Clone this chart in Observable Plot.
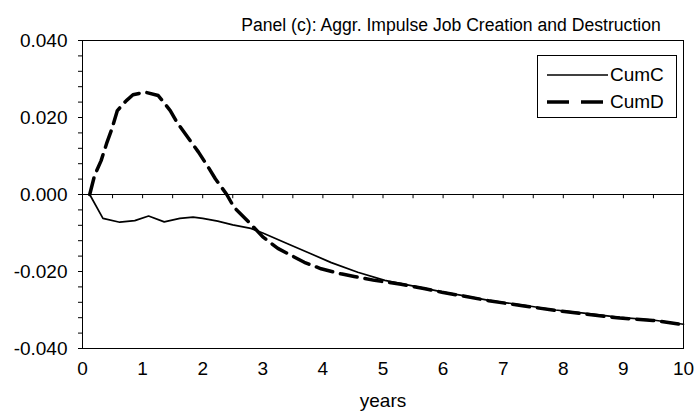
<!DOCTYPE html>
<html>
<head>
<meta charset="utf-8">
<script src="https://cdn.jsdelivr.net/npm/d3@7"></script>
<script src="https://cdn.jsdelivr.net/npm/@observablehq/plot@0.6"></script>
<style>
  html, body { margin: 0; padding: 0; background: #fff; }
  #wrap { position: relative; width: 696px; height: 416px; font-family: "Liberation Sans", Arial, sans-serif; }
  #legend { position: absolute; left: 537px; top: 55px; width: 140px; height: 63px; border: 1px solid #000; background: #fff; box-sizing: border-box; }
  #legend .row { position: absolute; left: 9px; display: flex; align-items: center; font-size: 19px; color: #000; }
  #legend svg { margin-right: 2px; }
</style>
</head>
<body>
<div id="wrap"></div>
<script>
// ---- data (years, value) ----
const seriesNames = ["CumC", "CumD"];
const cumC_t = [0.12, 0.34, 0.62, 0.87, 1.10, 1.36, 1.62, 1.84, 2.00, 2.25, 2.50, 2.80, 3.00, 3.47, 3.80, 4.14, 4.58, 5.03, 5.70, 5.98, 6.31, 6.76, 7.32, 7.87, 8.38, 8.94, 9.49, 10.0];
const cumC_v = [0.0, -0.0062, -0.0072, -0.0068, -0.0056, -0.0071, -0.0062, -0.0059, -0.0062, -0.0069, -0.0079, -0.0088, -0.0100, -0.0132, -0.0154, -0.0177, -0.0202, -0.0223, -0.0244, -0.0253, -0.0262, -0.0275, -0.0287, -0.0300, -0.0309, -0.0319, -0.0326, -0.0337];
const cumD_t = [0.12, 0.20, 0.31, 0.40, 0.49, 0.58, 0.73, 0.84, 1.04, 1.26, 1.46, 1.57, 1.79, 1.93, 2.10, 2.21, 2.40, 2.52, 2.77, 3.00, 3.25, 3.47, 3.69, 3.97, 4.30, 4.52, 4.86, 5.30, 5.70, 5.98, 6.31, 6.76, 7.32, 7.87, 8.38, 8.94, 9.49, 10.0];
const cumD_v = [0.0, 0.0049, 0.0088, 0.0132, 0.0171, 0.0218, 0.0244, 0.0259, 0.0266, 0.0257, 0.0218, 0.0188, 0.0140, 0.0110, 0.0069, 0.0041, 0.0000, -0.0033, -0.0072, -0.0110, -0.0140, -0.0158, -0.0176, -0.0193, -0.0206, -0.0213, -0.0223, -0.0233, -0.0245, -0.0254, -0.0263, -0.0276, -0.0289, -0.0301, -0.0311, -0.0321, -0.0327, -0.0338];
const xTicks = [0, 1, 2, 3, 4, 5, 6, 7, 8, 9, 10];
const yTicks = [-0.04, -0.02, 0, 0.02, 0.04];
const yMinorTicks = d3.range(-0.04, 0.0401, 0.004);
const zeroLineTicks = d3.range(0, 10.01, 0.5);
const titleText = "Panel (c): Aggr. Impulse Job Creation and Destruction";
const xLabel = "years";

const dataC = cumC_t.map((t, i) => ({t, v: cumC_v[i]}));
const dataD = cumD_t.map((t, i) => ({t, v: cumD_v[i]}));

const chart = Plot.plot({
  width: 696,
  height: 416,
  marginLeft: 82,
  marginRight: 13,
  marginTop: 40,
  marginBottom: 68,
  style: { fontFamily: "Liberation Sans, Arial, sans-serif", fontSize: "19px", color: "#000", background: "#fff" },
  x: { domain: [0, 10] },
  y: { domain: [-0.04, 0.04] },
  marks: [
    Plot.frame({ stroke: "#000", strokeWidth: 1 }),
    Plot.axisY({ ticks: yMinorTicks, tickSize: 4, tickFormat: () => "", label: null, stroke: "#000" }),
    Plot.axisY({ ticks: yTicks, tickSize: 0, tickPadding: 15, tickFormat: d => d.toFixed(3), label: null, fontSize: 19 }),
    Plot.axisX({ ticks: xTicks, tickSize: 0, tickPadding: 13, tickFormat: d => String(d), label: xLabel, labelAnchor: "center", labelArrow: "none", labelOffset: 58, fontSize: 19 }),
    Plot.ruleY([0], { stroke: "#000", strokeWidth: 1.2 }),
    Plot.ruleX(zeroLineTicks, { x: d => d, y1: 0, y2: -0.0011, stroke: "#000", strokeWidth: 1 }),
    Plot.line(dataC, { x: "t", y: "v", stroke: "#000", strokeWidth: 1.7 }),
    Plot.line(dataD, { x: "t", y: "v", stroke: "#000", strokeWidth: 3.5, strokeDasharray: "17,8" }),
    Plot.text([titleText], { frameAnchor: "top", text: d => d, dy: -22, dx: 68, fontSize: 17.6, fill: "#000" })
  ]
});

const wrap = document.getElementById("wrap");
wrap.appendChild(chart);

// legend
const legend = document.createElement("div");
legend.id = "legend";
const styles = [{ w: 1.7, dash: null, top: 8 }, { w: 3.5, dash: "22,12", top: 35 }];
seriesNames.forEach((name, i) => {
  const row = document.createElement("div");
  row.className = "row";
  row.style.top = styles[i].top + "px";
  const svg = d3.create("svg").attr("width", 61).attr("height", 20);
  svg.append("line").attr("x1", 0).attr("x2", 61).attr("y1", 10).attr("y2", 10)
    .attr("stroke", "#000").attr("stroke-width", styles[i].w)
    .attr("stroke-dasharray", styles[i].dash);
  row.appendChild(svg.node());
  const span = document.createElement("span");
  span.textContent = name;
  row.appendChild(span);
  legend.appendChild(row);
});
wrap.appendChild(legend);
</script>
</body>
</html>
